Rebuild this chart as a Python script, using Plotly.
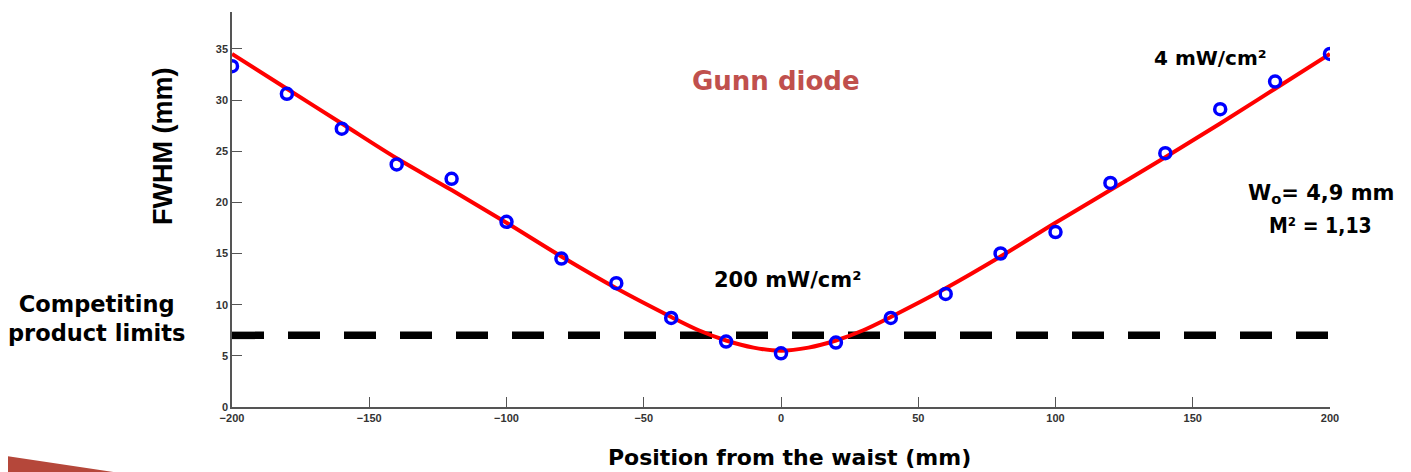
import plotly.graph_objects as go

# measured points (position mm, FWHM mm)
pos_pts = [-200, -180, -160, -140, -120, -100, -80, -60, -40, -20, 0,
           20, 40, 60, 80, 100, 120, 140, 160, 180, 200]
fwhm_pts = [33.3, 30.6, 27.2, 23.7, 22.3, 18.1, 14.5, 12.1, 8.7, 6.4, 5.25,
            6.3, 8.7, 11.05, 15.0, 17.1, 21.9, 24.8, 29.1, 31.8, 34.5]

# fitted curve
pos_fit = [-200, -180, -160, -140, -120, -100, -80, -60, -40, -30, -20, -10, 0,
           10, 20, 30, 40, 60, 80, 100, 120, 140, 160, 180, 200]
fwhm_fit = [34.5, 31.1, 27.7, 24.3, 21.2, 18.0, 14.7, 11.6, 8.8, 7.5, 6.5, 5.8, 5.5,
            5.8, 6.5, 7.5, 8.8, 11.6, 14.7, 18.0, 21.2, 24.4, 27.7, 31.1, 34.5]

# competing product limit
limit_x = [-200, 200]
limit_y = [7, 7]

x_ticks = [-200, -150, -100, -50, 0, 50, 100, 150, 200]
y_ticks = [0, 5, 10, 15, 20, 25, 30, 35]

OFF = 8  # page body margin
W, H = 1411 - OFF, 472 - OFF
L, T = 232 - OFF, 12 - OFF
R = W - (1330 - OFF)
B = H - (407 - OFF)

fig = go.Figure()
fig.add_trace(go.Scatter(x=limit_x, y=limit_y, mode="lines",
                         line=dict(color="black", width=7.5, dash="32px,24px"),
                         hoverinfo="skip"))
fig.add_trace(go.Scatter(x=pos_fit, y=fwhm_fit, mode="lines",
                         line=dict(color="#ff0000", width=4, shape="spline"),
                         hoverinfo="skip"))
fig.add_trace(go.Scatter(x=pos_pts, y=fwhm_pts, mode="markers",
                         marker=dict(symbol="circle-open", size=11,
                                     color="#0000ff", line=dict(width=3.5, color="#0000ff"))))

tickfont = dict(family="Liberation Sans", size=11, color="#333333", weight="bold")
fig.update_xaxes(range=[-200, 200], tickvals=x_ticks, ticks="inside", ticklen=10,
                 tickcolor="#555", showline=True, linecolor="#555", linewidth=1.5,
                 showgrid=False, zeroline=False, tickfont=tickfont)
fig.update_yaxes(range=[0, 38.6], tickvals=y_ticks, ticks="inside", ticklen=10,
                 tickcolor="#555", showline=True, linecolor="#555", linewidth=1.5,
                 showgrid=False, zeroline=False, tickfont=tickfont)

def px(xp):
    return (xp - OFF - L) / (W - L - R)

def py(yp):
    return (H - B - (yp - OFF)) / (H - T - B)

ann_font = "DejaVu Sans"
anns = [
    dict(text="Gunn diode", x=px(776), y=py(81), font=dict(size=26, color="#c0504d", family=ann_font, weight="bold")),
    dict(text="4 mW/cm²", x=px(1210), y=py(58), font=dict(size=20, color="black", family=ann_font, weight="bold")),
    dict(text="200 mW/cm²", x=px(787), y=py(280), font=dict(size=21, color="black", family=ann_font, weight="bold")),
    dict(text="W<sub>o</sub>= 4,9 mm", x=px(1321), y=py(194), font=dict(size=21, color="black", family=ann_font, weight="bold")),
    dict(text="M² = 1,13", x=px(1320), y=py(226), font=dict(size=21, color="black", family="DejaVu Sans Condensed", weight="bold")),
    dict(text="Competiting<br>product limits", x=px(96), y=py(318), font=dict(size=22.5, color="black", family=ann_font, weight="bold")),
    dict(text="Position from the waist (mm)", x=px(789), y=py(457), font=dict(size=22, color="black", family=ann_font, weight="bold")),
    dict(text="FWHM (mm)", x=px(163), y=py(147), textangle=-90, font=dict(size=27, color="black", family="Liberation Sans", weight="bold")),
]
for a in anns:
    fig.add_annotation(xref="paper", yref="paper", showarrow=False,
                       xanchor="center", yanchor="middle", **a)

# decorative wedge at bottom-left
fig.add_shape(type="path", xref="paper", yref="paper",
              path=f"M {px(0)},{py(455)} L {px(120)},{py(473)} L {px(0)},{py(473)} Z",
              fillcolor="#b5473a", line=dict(width=0), layer="below")

fig.update_layout(width=W, height=H, margin=dict(l=L, r=R, t=T, b=B),
                  paper_bgcolor="white", plot_bgcolor="white", showlegend=False)

fig.write_html("out.html")
